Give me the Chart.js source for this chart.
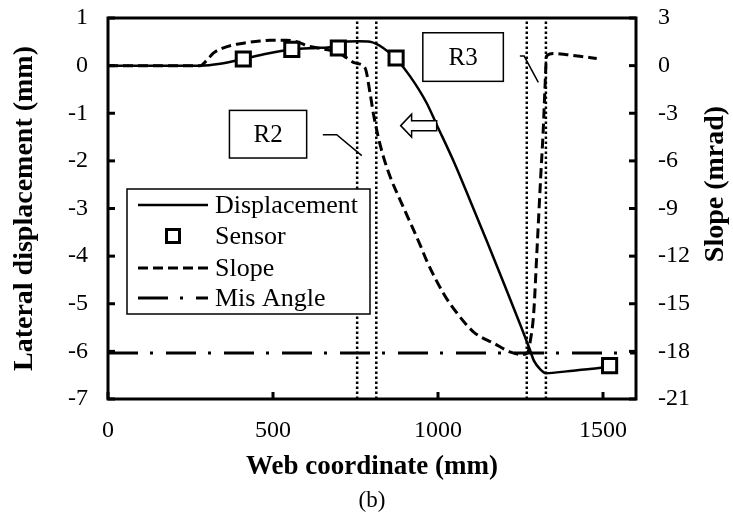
<!DOCTYPE html>
<html><head><meta charset="utf-8">
<script src="https://cdn.jsdelivr.net/npm/chart.js@4/dist/chart.umd.min.js"></script>
<style>html,body{margin:0;padding:0;background:#fff;}</style>
</head><body>
<canvas id="c" width="733" height="517"></canvas>
<script>
// ---- data ----
const webX = [0, 100, 200, 280, 340, 410, 480, 557, 630, 680, 698, 718, 760, 794, 834, 873, 915, 966, 996, 1050, 1100, 1150, 1200, 1250, 1276, 1291, 1310, 1327, 1400, 1460, 1520];
const displacement = [0, 0, 0, 0, 0.04, 0.14, 0.25, 0.34, 0.37, 0.39, 0.43, 0.5, 0.51, 0.5, 0.37, 0.14, -0.22, -0.79, -1.24, -2.05, -2.88, -3.72, -4.58, -5.45, -5.92, -6.2, -6.38, -6.46, -6.41, -6.37, -6.32];
const sensorX = [410, 557, 698, 873, 1520];
const sensorDisp = [0.14, 0.34, 0.37, 0.16, -6.3];
const slopeX = [0, 100, 200, 280, 300, 320, 350, 390, 421, 460, 492, 540, 580, 603, 653, 700, 723, 748, 779, 794, 804, 819, 834, 855, 886, 927, 947, 966, 1018, 1058, 1109, 1170, 1220, 1255, 1271, 1280, 1290, 1300, 1311, 1319, 1324, 1329, 1349, 1390, 1430, 1481];
const slopeMrad = [0, 0, 0, 0, 0.35, 0.8, 1.12, 1.35, 1.45, 1.55, 1.6, 1.6, 1.45, 1.25, 1.05, 0.8, 0.49, 0.17, -0.15, -1.72, -3.0, -4.5, -5.7, -7.0, -8.5, -10.4, -11.35, -12.3, -14.4, -15.6, -16.8, -17.5, -18.05, -18.2, -18.1, -17.3, -15.6, -11.6, -7.1, -4.0, -1.5, 0.6, 0.76, 0.69, 0.59, 0.45];
const misAngleMrad = -18.1;
const regionBoundsX = [755, 813, 1269, 1327];
const xRange = [0, 1600];
const dispRange = [-7, 1];
const slopeRange = [-21, 3];
const xTickValues = [0, 500, 1000, 1500];
const dispTickValues = [-7, -6, -5, -4, -3, -2, -1, 0, 1];
const slopeTickValues = [-21, -18, -15, -12, -9, -6, -3, 0, 3];
const legendLabels = ['Displacement', 'Sensor', 'Slope', 'Mis Angle'];
const regionLabels = ['R2', 'R3'];
const xTitle = 'Web coordinate (mm)';
const yTitle = 'Lateral displacement (mm)';
const y2Title = 'Slope (mrad)';
const caption = '(b)';

// ---- build ----
const SERIF = '"Liberation Serif", "Times New Roman", serif';
const pts = (xs, ys) => xs.map((v, i) => ({x: v, y: ys[i]}));

const datasets = [
  {label: legendLabels[0], data: pts(webX, displacement), yAxisID: 'y', borderColor: '#000', borderWidth: 2.5,
   pointRadius: 0, cubicInterpolationMode: 'monotone', fill: false, order: 2},
  {label: legendLabels[1], data: pts(sensorX, sensorDisp), yAxisID: 'y', showLine: false, pointStyle: 'rect',
   pointRadius: 10, pointBackgroundColor: '#fff', pointBorderColor: '#000', pointBorderWidth: 3, order: 0},
  {label: legendLabels[2], data: pts(slopeX, slopeMrad), yAxisID: 'y2', borderColor: '#000', borderWidth: 3,
   borderDash: [10, 5], pointRadius: 0, cubicInterpolationMode: 'monotone', fill: false, order: 3},
  {label: legendLabels[3], data: pts(xRange, [misAngleMrad, misAngleMrad]), yAxisID: 'y2', borderColor: '#000',
   borderWidth: 3, borderDash: [30, 12, 3, 13], pointRadius: 0, fill: false, order: 4}
];
regionBoundsX.forEach(b => datasets.push({
  label: 'bound', data: pts([b, b], dispRange), yAxisID: 'y', borderColor: '#000', borderWidth: 2.5,
  borderDash: [2.5, 2.5], pointRadius: 0, fill: false, order: 5
}));

const tickFont = {family: SERIF, size: 24};

const decor = {
  id: 'decor',
  afterDatasetsDraw(chart) {
    const {ctx, chartArea: a} = chart;
    const {x, y, y2} = chart.scales;
    const X = v => x.getPixelForValue(v), Y = v => y.getPixelForValue(v);
    ctx.save();
    ctx.strokeStyle = '#000'; ctx.fillStyle = '#000'; ctx.setLineDash([]);
    const seg = (x1, y1, x2, y2_) => { ctx.beginPath(); ctx.moveTo(x1, y1); ctx.lineTo(x2, y2_); ctx.stroke(); };

    // region boxes, leaders, arrow
    ctx.lineWidth = 1.5;
    const boxes = [[368, 602, -0.94, -1.94], [954, 1198, 0.69, -0.33]];
    boxes.forEach((b, i) => {
      const l = X(b[0]), r = X(b[1]), t = Y(b[2]), bt = Y(b[3]);
      ctx.fillStyle = '#fff'; ctx.fillRect(l, t, r - l, bt - t);
      ctx.strokeRect(l, t, r - l, bt - t);
      ctx.fillStyle = '#000'; ctx.font = '25px ' + SERIF;
      ctx.textAlign = 'center'; ctx.textBaseline = 'middle';
      ctx.fillText(regionLabels[i], (l + r) / 2, (t + bt) / 2 + 1);
    });
    const leaders = [[[651, -1.45], [693, -1.45], [769, -1.89]], [[1248, 0.2], [1261, 0.2], [1304, -0.35]]];
    leaders.forEach(p => {
      ctx.beginPath(); ctx.moveTo(X(p[0][0]), Y(p[0][1]));
      for (let k = 1; k < p.length; k++) ctx.lineTo(X(p[k][0]), Y(p[k][1]));
      ctx.stroke();
    });
    // hollow arrow
    {
      const tx = X(887), ty = Y(-1.26), hx = X(920), ex = X(996);
      ctx.beginPath();
      ctx.moveTo(tx, ty); ctx.lineTo(hx, ty - 11.5); ctx.lineTo(hx, ty - 5); ctx.lineTo(ex, ty - 5);
      ctx.lineTo(ex, ty + 5); ctx.lineTo(hx, ty + 5); ctx.lineTo(hx, ty + 11.5); ctx.closePath();
      ctx.fillStyle = '#fff'; ctx.fill(); ctx.stroke(); ctx.fillStyle = '#000';
    }

    // frame
    ctx.lineWidth = 3;
    ctx.strokeRect(a.left, a.top, a.right - a.left, a.bottom - a.top);
    // inward ticks
    x.ticks.forEach(t => { const p = X(t.value); seg(p, a.bottom, p, a.bottom - 7); });
    y.ticks.forEach(t => { const p = Y(t.value); seg(a.left, p, a.left + 7, p); });
    y2.ticks.forEach(t => { const p = y2.getPixelForValue(t.value); seg(a.right, p, a.right - 7, p); });

    // legend
    const L = a.left + 19, T = 189, W = 243, H = 125;
    ctx.fillStyle = '#fff'; ctx.fillRect(L, T, W, H);
    ctx.lineWidth = 1.5; ctx.strokeRect(L, T, W, H);
    const rows = [16, 47, 79, 109];
    ctx.font = '26px ' + SERIF; ctx.textAlign = 'left'; ctx.textBaseline = 'middle';
    [0, 1, 2, 3].forEach((di, r) => {
      const ds = chart.data.datasets[di];
      const cy = T + rows[r];
      if (ds.showLine === false) {
        const s = 13; const cx = L + 46;
        ctx.setLineDash([]); ctx.lineWidth = ds.pointBorderWidth;
        ctx.fillStyle = '#fff'; ctx.fillRect(cx - s / 2, cy - s / 2, s, s);
        ctx.strokeRect(cx - s / 2, cy - s / 2, s, s);
      } else {
        ctx.setLineDash(ds.borderDash || []); ctx.lineWidth = ds.borderWidth;
        seg(L + 11, cy, L + 81, cy);
      }
      ctx.setLineDash([]);
      ctx.fillStyle = '#000';
      ctx.fillText(ds.label, L + 88, cy + 1);
    });

    // axis titles and caption
    ctx.textAlign = 'center'; ctx.textBaseline = 'middle';
    ctx.font = 'bold 27px ' + SERIF;
    ctx.fillText(xTitle, (a.left + a.right) / 2, 467);
    ctx.font = 'bold 28px ' + SERIF;
    ctx.save(); ctx.translate(25, (a.top + a.bottom) / 2); ctx.rotate(-Math.PI / 2);
    ctx.fillText(yTitle, 0, 0); ctx.restore();
    ctx.save(); ctx.translate(716, 184); ctx.rotate(-Math.PI / 2);
    ctx.fillText(y2Title, 0, 0); ctx.restore();
    ctx.font = '23px ' + SERIF;
    ctx.fillText(caption, (a.left + a.right) / 2, 501);
    ctx.restore();
  }
};

const noPad = s => { s.paddingTop = 0; s.paddingBottom = 0; };

new Chart(document.getElementById('c'), {
  type: 'line',
  data: {datasets},
  options: {
    responsive: false, devicePixelRatio: 1, animation: false,
    layout: {padding: {top: 18, left: 0, right: 0, bottom: 0}},
    plugins: {legend: {display: false}, tooltip: {enabled: false}},
    scales: {
      x: {type: 'linear', position: 'bottom', min: xRange[0], max: xRange[1],
          grid: {display: false, drawTicks: false}, border: {display: false},
          ticks: {font: tickFont, color: '#000', padding: 17, maxRotation: 0, callback: v => String(v)},
          afterBuildTicks: s => { s.ticks = xTickValues.map(v => ({value: v})); },
          afterFit: s => { s.height = 118; s.paddingLeft = 0; s.paddingRight = 0; }},
      y: {type: 'linear', position: 'left', min: dispRange[0], max: dispRange[1],
          grid: {display: false, drawTicks: false}, border: {display: false},
          ticks: {font: tickFont, color: '#000', padding: 20, callback: v => String(v)},
          afterBuildTicks: s => { s.ticks = dispTickValues.map(v => ({value: v})); },
          afterFit: s => { s.width = 108; noPad(s); }},
      y2: {type: 'linear', position: 'right', min: slopeRange[0], max: slopeRange[1],
          grid: {display: false, drawTicks: false}, border: {display: false},
          ticks: {font: tickFont, color: '#000', padding: 22, callback: v => String(v)},
          afterBuildTicks: s => { s.ticks = slopeTickValues.map(v => ({value: v})); },
          afterFit: s => { s.width = 97; noPad(s); }}
    }
  },
  plugins: [decor]
});
</script>
</body></html>
